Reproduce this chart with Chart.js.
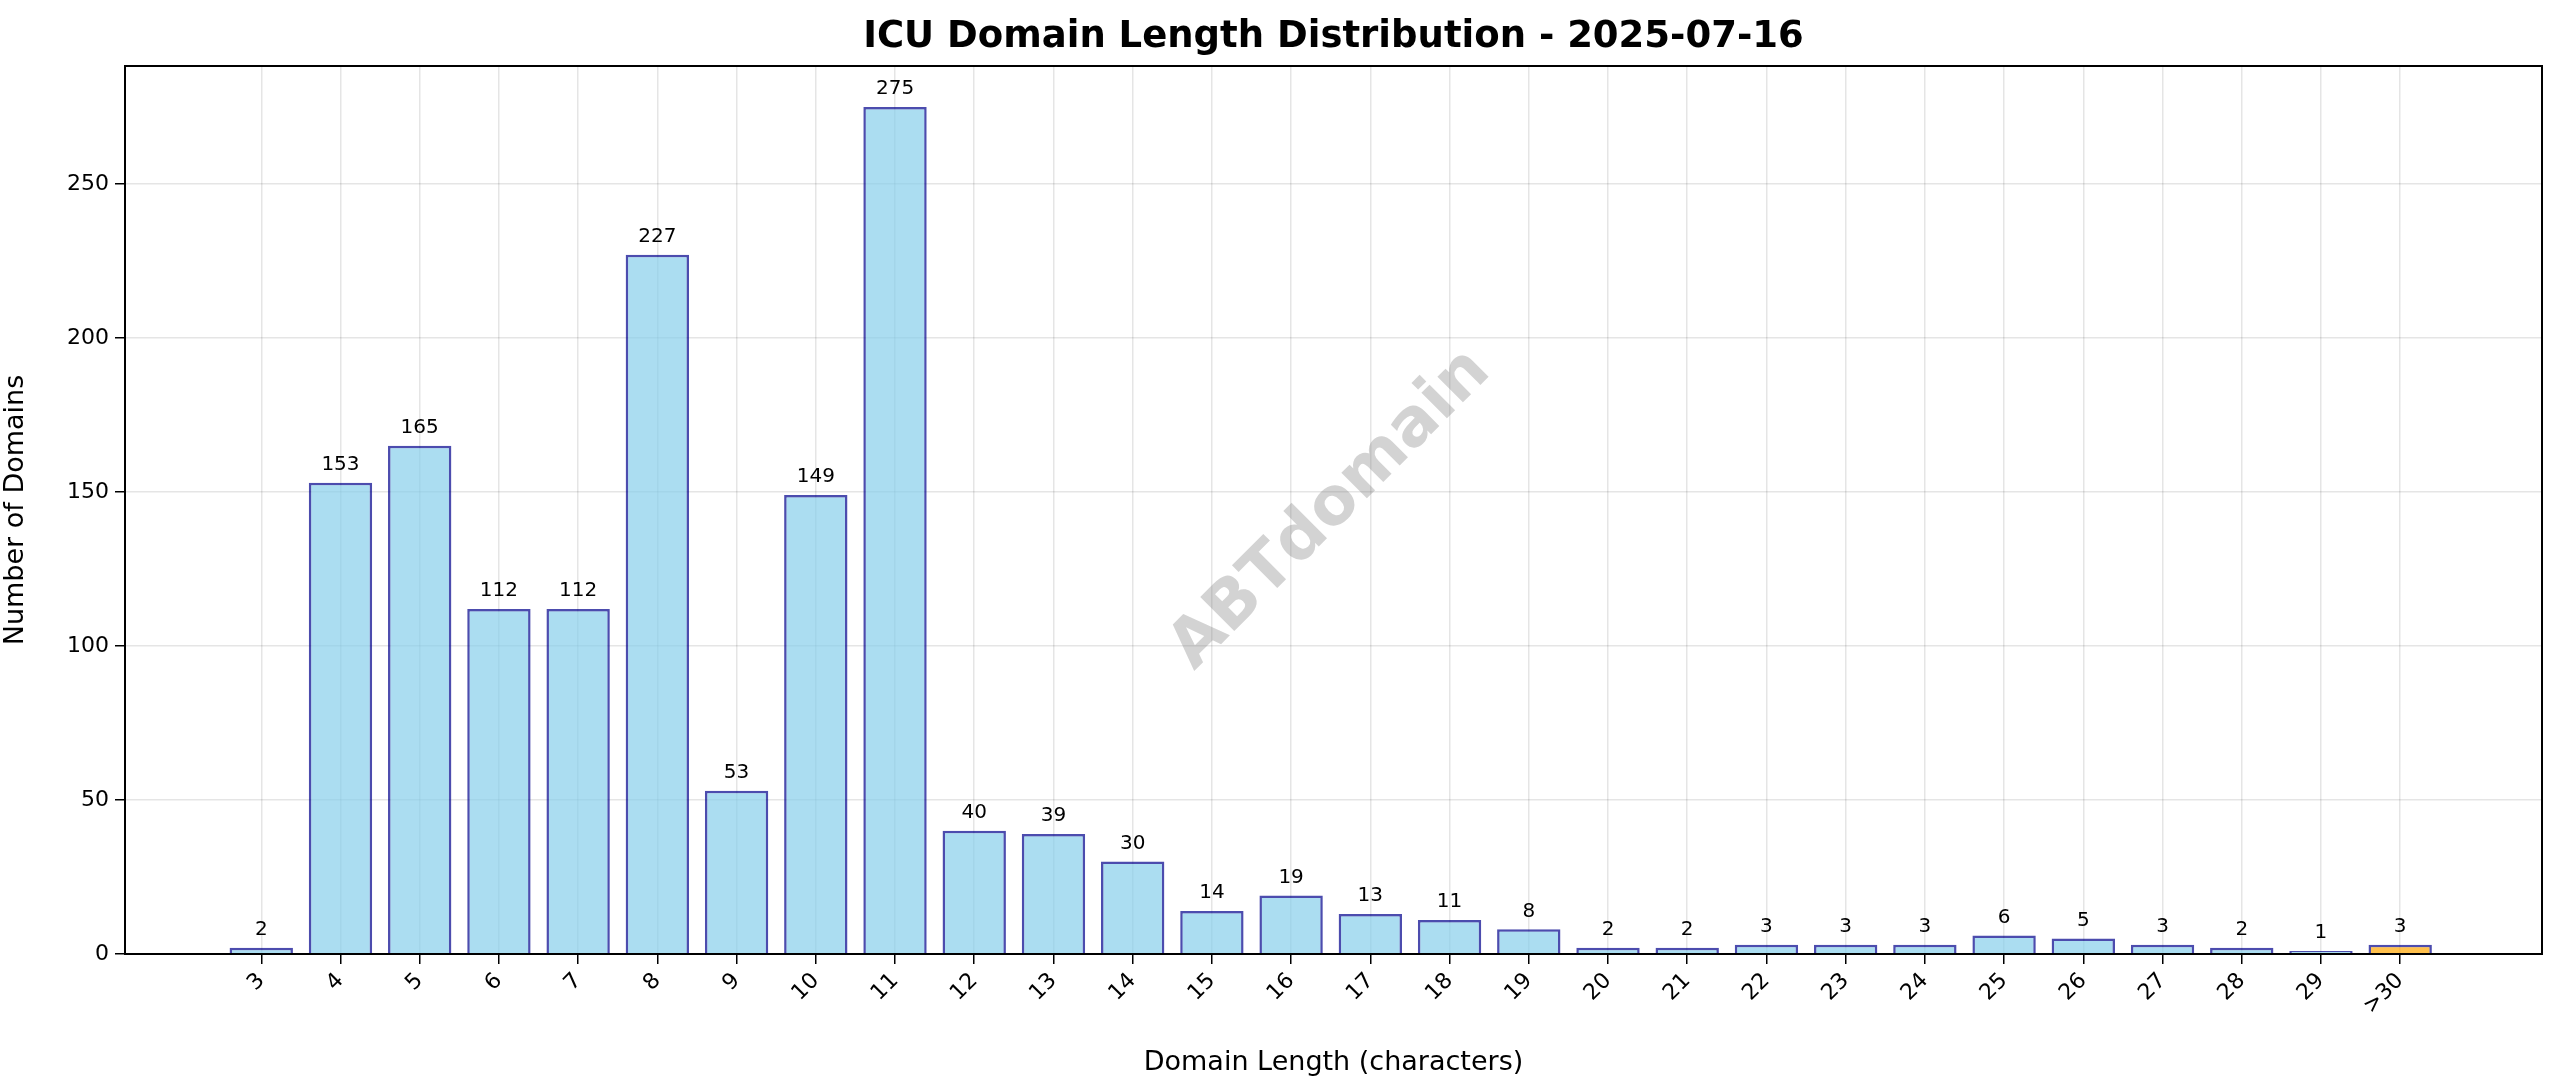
<!DOCTYPE html>
<html>
<head>
<meta charset="utf-8">
<script src="https://cdn.jsdelivr.net/npm/chart.js@4"></script>
<style>
  body { margin: 0; background: #fff; }
  #wrap { width: 2560px; height: 1087px; }
</style>
</head>
<body>
<div id="wrap"><canvas id="grafico"></canvas></div>
<script>
var categorias = ["3","4","5","6","7","8","9","10","11","12","13","14","15","16","17","18","19","20","21","22","23","24","25","26","27","28","29",">30"];
var dominios = [2,153,165,112,112,227,53,149,275,40,39,30,14,19,13,11,8,2,2,3,3,3,6,5,3,2,1,3];
var yTicks = [0,50,100,150,200,250];

var pontos = dominios.map(function (v, i) { return { x: i, y: v }; });
var cores = dominios.map(function (v, i) {
  return categorias[i] === ">30" ? "rgba(255,165,0,0.7)" : "rgba(135,206,235,0.7)";
});

var fonte = "'DejaVu Sans', sans-serif";

// rótulos, título e marca d'água
var extras = {
  id: 'extras',
  beforeDraw: function (chart) {
    var ctx = chart.ctx;
    ctx.save();
    ctx.fillStyle = '#fff';
    ctx.fillRect(0, 0, chart.width, chart.height);
    ctx.restore();
  },
  afterDatasetsDraw: function (chart) {
    var ctx = chart.ctx;
    var a = chart.chartArea;
    ctx.save();
    ctx.fillStyle = '#000';
    ctx.font = "20px " + fonte;
    ctx.textAlign = 'center';
    ctx.textBaseline = 'bottom';
    chart.getDatasetMeta(0).data.forEach(function (bar, i) {
      ctx.fillText(String(dominios[i]), bar.x, bar.y - 8);
    });
    // marca d'água
    ctx.translate(1331, 510);
    ctx.rotate(-Math.PI / 4);
    ctx.font = "bold 66px " + fonte;
    ctx.fillStyle = 'rgba(128,128,128,0.35)';
    ctx.textBaseline = 'middle';
    ctx.fillText('ABTdomain', 0, 0);
    ctx.restore();
    ctx.save();
    ctx.font = "bold 37px " + fonte;
    ctx.fillStyle = '#000';
    ctx.textAlign = 'center';
    ctx.textBaseline = 'middle';
    ctx.fillText('ICU Domain Length Distribution - 2025-07-16', (a.left + a.right) / 2, 37);
    ctx.strokeStyle = '#000';
    ctx.lineWidth = 2;
    ctx.strokeRect(a.left, a.top, a.right - a.left, a.bottom - a.top);
    ctx.restore();
  }
};

new Chart(document.getElementById('grafico'), {
  type: 'bar',
  data: {
    datasets: [{
      data: pontos,
      backgroundColor: cores,
      borderColor: 'rgba(0,0,139,0.7)',
      borderWidth: 2.5,
      barPercentage: 0.8,
      categoryPercentage: 1.0
    }]
  },
  options: {
    responsive: true,
    maintainAspectRatio: false,
    devicePixelRatio: 1,
    animation: false,
    layout: { padding: { top: 66, right: 18, left: 0, bottom: 0 } },
    plugins: { legend: { display: false }, tooltip: { enabled: false } },
    scales: {
      x: {
        type: 'linear',
        min: -1.72,
        max: 28.79,
        offset: false,
        afterFit: function (s) { s.height = 1087 - 954; },
        afterBuildTicks: function (s) { s.ticks = categorias.map(function (c, i) { return { value: i }; }); },
        ticks: {
          callback: function (v) { return categorias[v]; },
          maxRotation: 45, minRotation: 45,
          font: { size: 22, family: fonte }, color: '#000', padding: 4, autoSkip: false
        },
        grid: { offset: false, color: 'rgba(0,0,0,0.1)', lineWidth: 1.5, tickLength: 10, tickColor: '#000', drawTicks: true },
        border: { display: false },
        title: { display: true, text: 'Domain Length (characters)', font: { size: 27, family: fonte }, color: '#000', padding: { top: 0, bottom: 8 } }
      },
      y: {
        min: 0,
        max: 288.3,
        afterFit: function (s) { s.width = 125; },
        afterBuildTicks: function (s) { s.ticks = yTicks.map(function (v) { return { value: v }; }); },
        ticks: { font: { size: 22, family: fonte }, color: '#000', padding: 6 },
        grid: { color: 'rgba(0,0,0,0.1)', lineWidth: 1.5, tickLength: 10, tickColor: '#000' },
        border: { display: false },
        title: { display: true, text: 'Number of Domains', font: { size: 27, family: fonte }, color: '#000', padding: { top: 0, bottom: 6 } }
      }
    }
  },
  plugins: [extras]
});
</script>
</body>
</html>
